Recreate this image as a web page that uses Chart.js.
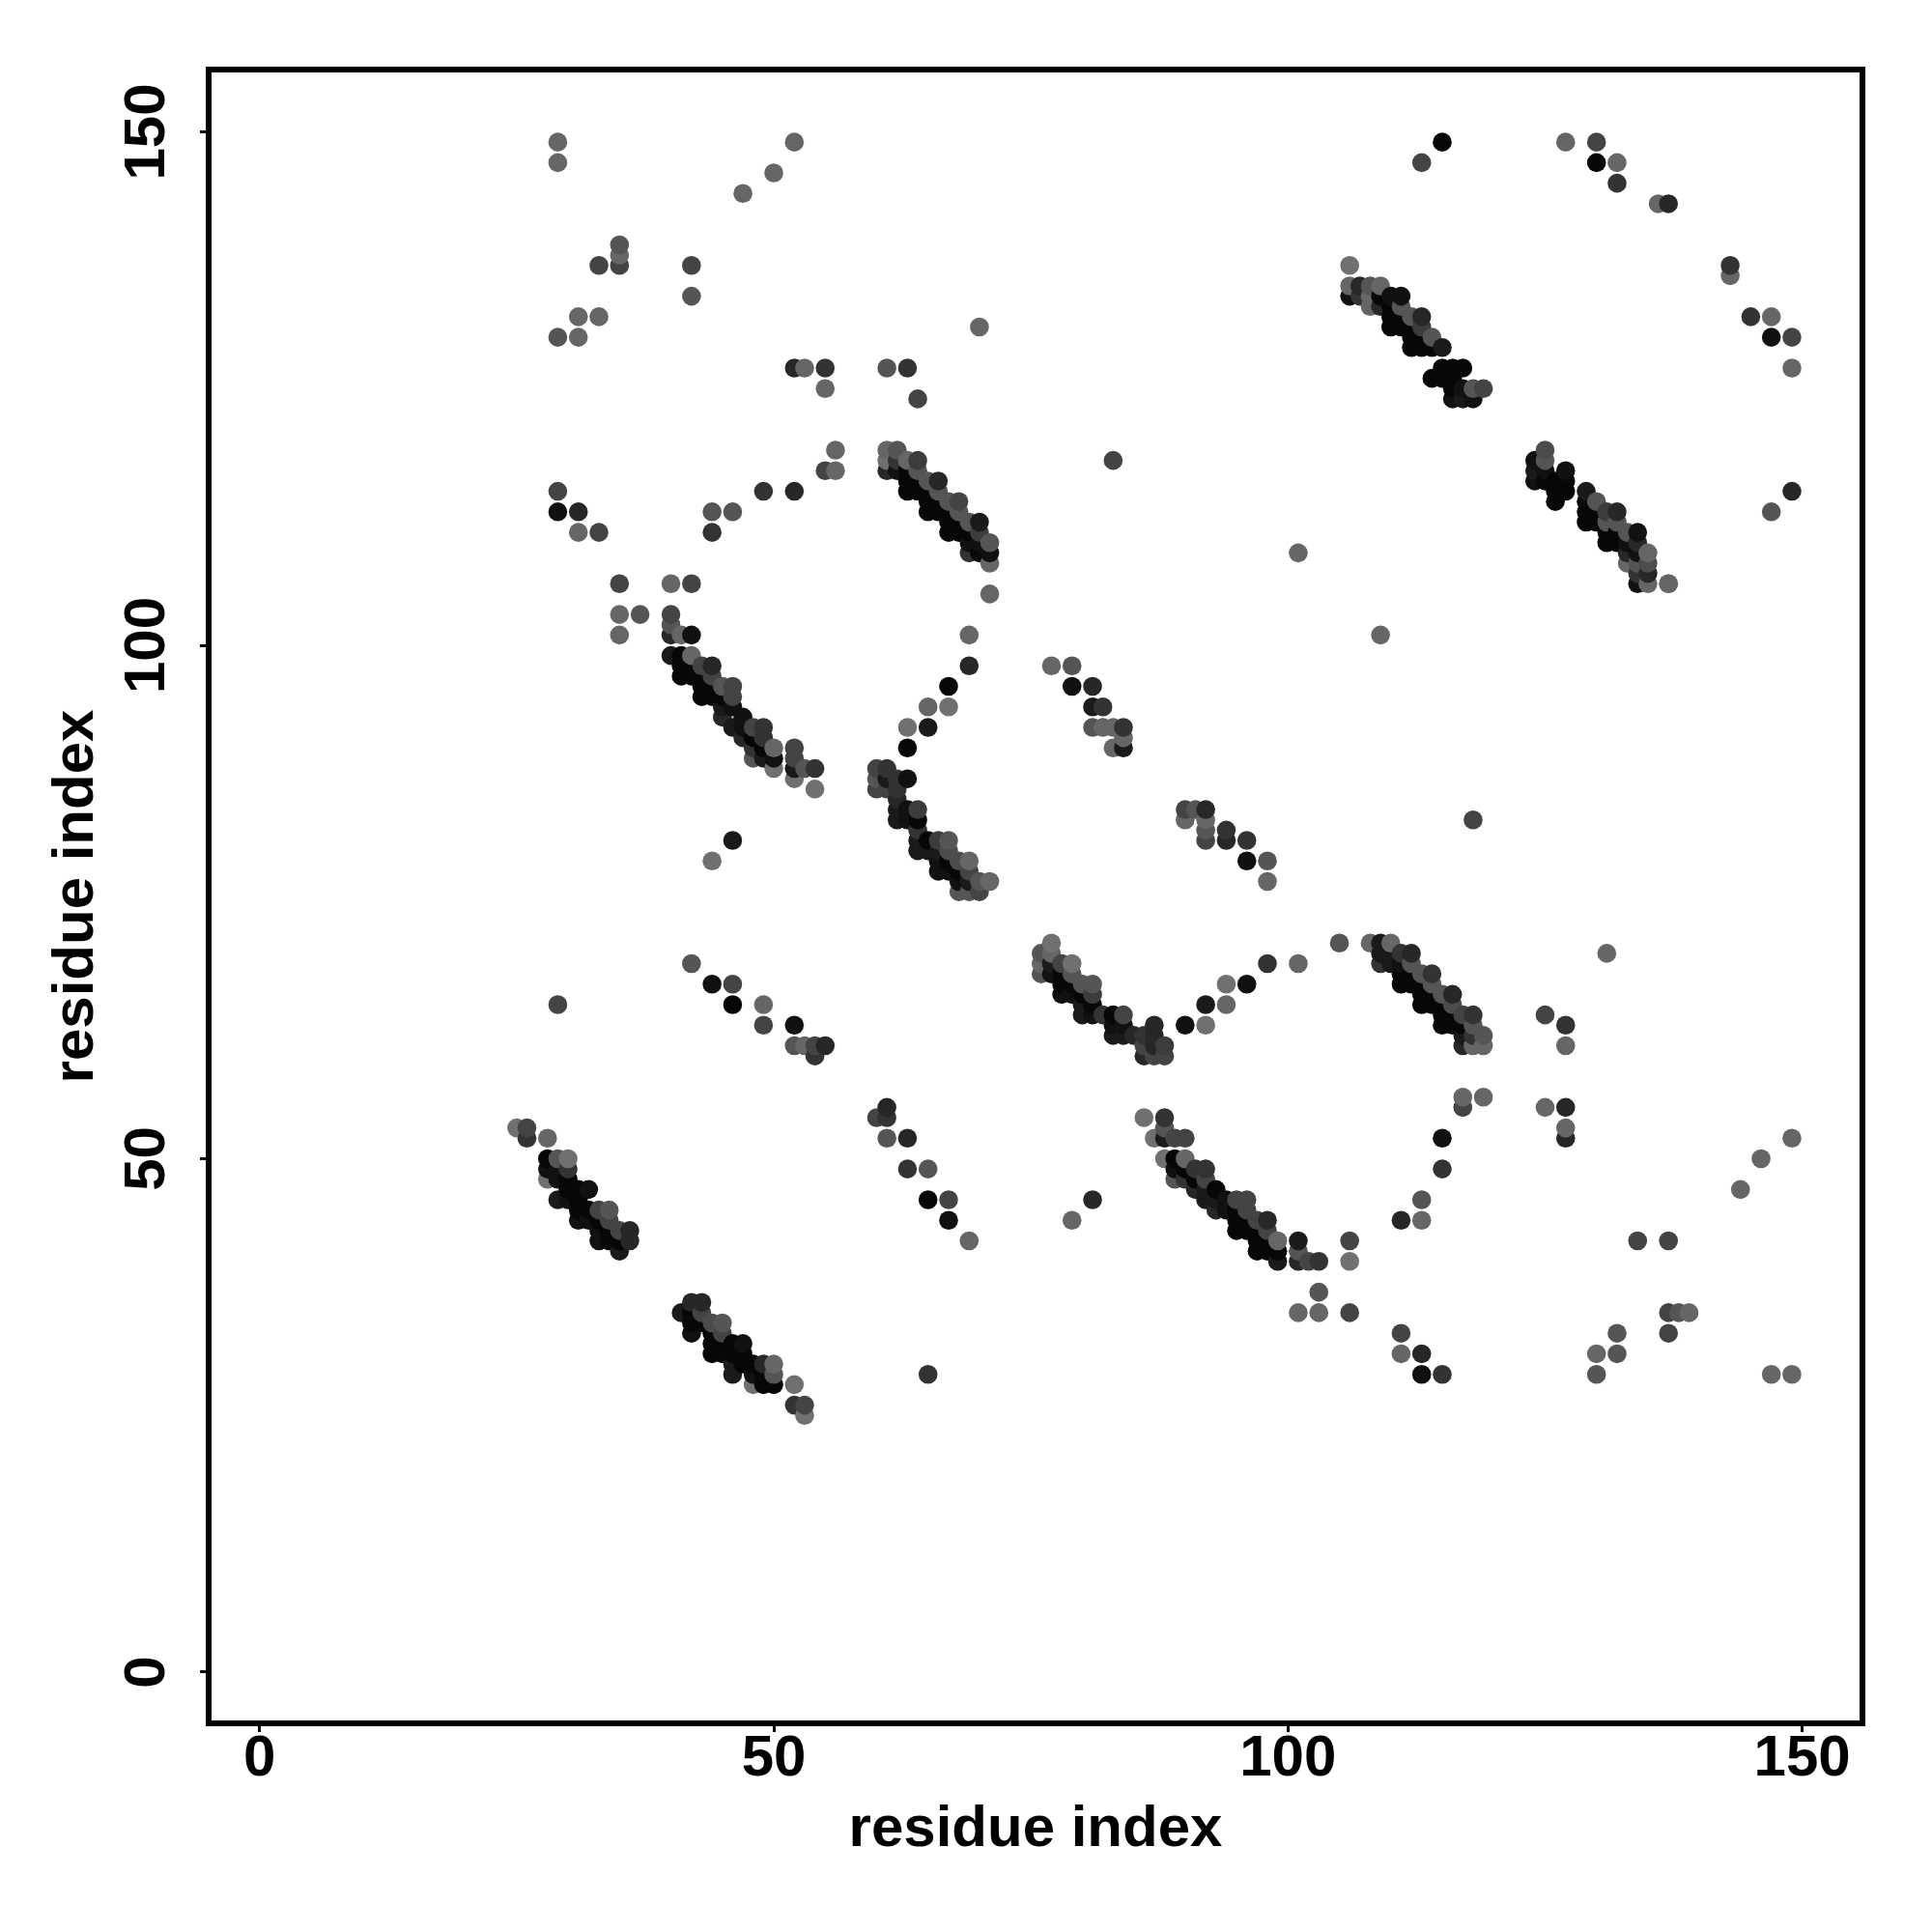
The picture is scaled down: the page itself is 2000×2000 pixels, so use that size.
<!DOCTYPE html>
<html>
<head>
<meta charset="utf-8">
<style>
  html, body { margin: 0; padding: 0; background: #fff; }
  canvas { display: block; }
</style>
<script src="https://cdn.jsdelivr.net/npm/chart.js@4"></script>
</head>
<body>
<canvas id="contacts" width="2000" height="2000"></canvas>
<script>
const tickValues = [0, 50, 100, 150];
const axisTitle = 'residue index';

// level 0 = strongest contact (darkest), 10 = weakest
const shadeScale = ['#070707', '#111111', '#1a1a1a', '#272727', '#333333', '#3c3c3c', '#444444', '#4c4c4c', '#555555', '#666666', '#707070'];

const strandAX = [25,26,26, 28,28,28,28, 29,29,29,29, 30,30,30,30,30, 31,31,31,31, 32,32,32, 33,33,33,33, 34,34,34,34, 35,35,35, 36,36];
const strandAY = [53,53,52, 52,50,49,48, 50,49,48,46, 50,49,48,47,46, 47,46,45,44, 47,45,44, 45,44,43,42, 45,44,43,42, 43,42,41, 43,42];
const strandAL = [10,6,4, 9,0,1,10, 8,1,1,2, 10,4,0,0,1, 0,0,0,1, 1,0,1, 6,0,1,1, 8,6,0,0, 6,0,2, 3,3];

const strandBX = [41, 42,42,42,42, 43,43,43, 44,44,44,44, 45,45,45,45, 46,46,46,46, 47,47,47, 48,48,48, 49,49,49, 50,50,50, 52,52, 53,53];
const strandBY = [35, 36,35,34,33, 36,35,34, 34,33,32,31, 34,33,32,31, 32,31,30,29, 32,31,30, 30,29,28, 30,29,28, 30,29,28, 28,26, 26,25];
const strandBL = [2, 3,0,0,1, 3,6,0, 7,0,0,0, 8,6,0,0, 0,0,2,2, 1,0,0, 0,1,10, 3,0,0, 9,8,0, 10,4, 6,10];

const strandCX = [40,40,40,40, 41,41,41,41, 42,42,42,42, 43,43,43,43, 44,44,44,44, 45,45,45,45, 46,46,46,46, 47,47,47, 48,48,48,48, 49,49,49,49, 50,50,50, 52,52,52,52, 53, 54,54];
const strandCY = [103,102,101,99, 101,99,98,97, 101,99,98,97, 98,97,96,95, 98,97,96,95, 96,95,94,93, 96,95,94,92, 93,92,91, 92,91,90,89, 92,91,90,89, 90,89,88, 90,89,88,87, 88, 88,86];
const strandCL = [6,8,3,2, 9,0,0,0, 1,9,0,0, 6,0,0,0, 3,6,0,0, 8,0,2,3, 6,6,1,2, 1,1,3, 6,0,4,8, 4,4,0,2, 9,1,10, 6,6,2,10, 8, 4,10];

const strandDX = [60,60,60, 61,61,61, 62,62,62,62,62, 63,63,63, 64,64,64,64,64, 65,65, 66,66,66,66, 67,67,67,67, 68,68,68,68, 69,69,69,69, 70,70, 71];
const strandDY = [88,87,86, 88,87,86, 87,86,85,84,83, 87,84,83, 84,83,82,81,80, 81,80, 81,80,79,78, 81,80,79,78, 79,78,77,76, 79,78,77,76, 77,76, 77];
const strandDL = [6,8,6, 4,2,6, 4,4,3,2,2, 1,1,1, 5,0,4,2,2, 0,2, 5,2,1,1, 8,7,0,1, 7,0,1,8, 9,6,2,8, 8,6, 9];

const strandEX = [61,61,61, 62,62,62, 63,63,63,63, 64,64,64,64, 65,65,65,65, 66,66,66,66, 67,67,67,67, 68,68,68,68, 69,69,69,69, 70,70,70,70, 71,71,71];
const strandEY = [119,118,117, 119,118,117, 118,117,116,115, 118,117,116,115, 116,115,114,113, 116,115,114,113, 114,113,112,111, 114,113,112,111, 112,111,110,109, 112,111,110,109, 110,109,108];
const strandEL = [9,10,3, 8,4,1, 9,0,0,0, 5,8,0,0, 8,0,0,0, 3,8,0,0, 8,0,0,0, 6,8,0,0, 8,0,1,4, 2,5,1,0, 8,1,9];

const strandFX = [76,76,76, 77,77,77,77, 78,78,78,78, 79,79,79,79, 80,80,80,80, 81,81,81,81, 82, 83,83,83, 84,84,84, 85, 86,86,86, 87,87,87,87, 88,88];
const strandFY = [70,69,68, 71,70,69,68, 69,68,67,66, 69,68,67,66, 67,66,65,64, 67,66,65,64, 64, 64,63,62, 64,63,62, 62, 62,61,60, 63,62,61,60, 61,60];
const strandFL = [8,9,8, 10,9,2,1, 6,0,0,1, 10,8,0,1, 8,0,2,2, 8,5,0,1, 4, 0,1,2, 6,1,2, 3, 4,6,3, 3,3,3,6, 5,6];

const strandGX = [86, 87, 88,88,88,88, 89,89,89,89, 90,90,90,90, 91,91,91, 92,92,92,92, 93,93,93, 94,94, 95,95,95,95, 96,96,96,96, 97,97,97,97, 98,98,98,98, 99,99,99, 101,101,101, 102, 103, 106,106];
const strandGY = [54, 52, 54,53,52,50, 52,50,49,48, 52,50,49,48, 49,48,47, 49,48,47,46, 47,46,45, 46,45, 46,45,44,43, 46,45,44,43, 44,43,42,41, 44,43,42,41, 42,41,40, 42,41,40, 40, 40, 42,40];
const strandGL = [10, 10, 4,8,2,10, 6,0,1,8, 6,9,0,4, 4,0,3, 4,6,2,2, 0,2,3, 1,1, 6,0,0,0, 6,6,0,0, 6,0,0,0, 3,6,0,0, 9,0,2, 2,8,3, 6, 4, 6,10];

const strandHX = [106,106,106, 107,107, 108,108,108, 109,109,109, 110,110,110,110, 111,111,111,111, 112,112,112,112, 113,113,113,113, 114,114, 115];
const strandHY = [137,135,134, 135,134, 135,134,133, 135,134,133, 134,133,132,131, 134,133,132,131, 132,131,130,129, 132,131,130,129, 130,129, 129];
const strandHL = [10,9,1, 3,4, 8,9,9, 9,0,3, 1,0,0,0, 1,8,0,0, 8,0,0,0, 3,5,0,0, 8,0, 2];

const strandIX = [114, 115,115, 116,116,116,116, 117,117,117, 118,118, 119];
const strandIY = [126, 127,126, 127,126,125,124, 127,125,124, 125,124, 125];
const strandIL = [0, 0,0, 0,0,0,1, 0,1,2, 8,1, 6];

const strandJX = [124,124,124, 125,125,125,125, 126,126,126, 127,127,127, 129,129,129,129, 130,130,130, 131,131,131,131, 132,132,132,132, 133,133,133,133, 134,134,134,134,134,134, 135,135,135,135, 137];
const strandJY = [118,117,116, 119,118,117,116, 116,115,114, 117,116,115, 115,114,113,112, 114,113,112, 113,112,111,110, 113,112,111,110, 111,110,109,108, 111,110,109,108,107,106, 109,108,107,106, 106];
const strandJL = [1,2,1, 7,8,1,0, 0,0,0, 1,0,0, 2,0,0,0, 8,0,0, 5,8,0,0, 3,8,0,0, 8,1,3,9, 1,3,1,8,4,1, 9,7,3,9, 9];

const strandKX = [108, 109,109,109, 110,110,110, 111,111,111,111, 112,112,112,112, 113,113,113,113, 114,114,114,114, 115,115,115,115, 116,116,116,116, 117,117,117,117, 118,118,118,118, 119,119];
const strandKY = [71, 71,70,69, 71,70,69, 70,69,68,67, 70,69,68,67, 68,67,66,65, 68,67,66,65, 66,65,64,63, 66,65,64,63, 64,63,62,61, 64,63,62,61, 62,61];
const strandKL = [9, 2,2,4, 9,2,2, 4,1,0,0, 3,8,0,0, 8,0,0,0, 4,8,0,0, 8,0,0,0, 3,7,0,0, 6,0,2,3, 4,8,4,9, 8,9];

const sparseTopX = [29,52,115,127,130, 29,113,130,132, 132,50,47, 136,137, 35,35, 33,35,42,143, 143, 42, 31,33,145,147, 29,31,147,149, 70, 52,53,55,61,63,149, 55, 64];
const sparseTopY = [149,149,149,149,149, 147,147,147,147, 145,146,144, 143,143, 139,138, 137,137,137,137, 136, 134, 132,132,132,132, 130,130,130,130, 131, 127,127,127,127,127,127, 125, 124];
const sparseTopL = [9,9,0,9,6, 9,6,0,9, 4,9,9, 9,3, 8,9, 6,6,6,4, 9, 8, 9,9,4,9, 8,9,1,6, 9, 3,9,4,8,4,9, 9, 6];

const sparseMidX = [83, 56, 55,56, 29,49,52,149, 29,31,44,46,147, 31,33,44, 101, 35,40,42,137, 71, 35,37, 35,109,69, 69, 67, 65,67, 63,65, 63];
const sparseMidY = [118, 119, 117,117, 115,115,115,115, 113,113,113,113,113, 111,111,111, 109, 106,106,106,106, 105, 103,103, 101,101,101, 98, 96, 94,94, 92,92, 90];
const sparseMidL = [6, 9, 6,9, 6,4,3,3, 1,3,8,8,8, 9,6,4, 9, 6,9,6,9, 9, 9,8, 9,9,9, 3, 0, 9,10, 10,2, 0];

const patchAX = [77,79,79,81,81,82,81,82,83,84,83,84,84];
const patchAY = [98,98,96,96,94,94,92,92,92,92,90,91,90];
const patchAL = [9,8,1,3,2,4,8,9,9,4,9,9,2];

const patchBX = [90,91,92,90,92,92,92,94,94,96,96,98,98];
const patchBY = [84,84,84,83,83,82,81,82,81,81,79,79,77];
const patchBL = [6,8,3,9,9,8,6,4,3,4,1,8,9];

const patchCX = [42,44,46,46,49,49,52,52,53,54,55,54,29,118,46,44];
const patchCY = [69,67,67,65,65,63,63,61,61,61,61,60,65,83,81,79];
const patchCL = [8,1,6,0,9,6,1,8,9,6,3,4,6,6,2,10];

const patchDX = [60,61,61,61,63,63,65,65,67,67,69,79,81];
const patchDY = [54,55,54,52,52,49,49,46,46,44,42,44,46];
const patchDL = [6,3,4,8,3,4,8,0,6,1,9,9,3];

const bridgeX = [90,92,92,94,94,96,98,101,105,131,125,127,127];
const bridgeY = [63,63,65,65,67,67,69,69,71,70,64,63,61];
const bridgeL = [1,10,2,9,10,1,4,9,8,9,6,4,9];

const sparseLowX = [117,117,119,125,127,127,127,115,115,113,111,113,149,146,144,134,137];
const sparseLowY = [56,55,56,55,55,53,52,52,49,46,44,44,52,50,47,42,42];
const sparseLowL = [9,6,9,9,3,9,3,1,4,8,3,9,9,9,9,6,6];

const sparseFootX = [103,101,103,106,111,111,113,113,115,130,132,132,130,137,138,139,137,147,149,65];
const sparseFootY = [37,35,35,35,33,31,31,29,29,31,33,31,29,35,35,35,33,29,29,29];
const sparseFootL = [8,9,9,6,6,9,3,1,4,9,8,8,8,6,8,9,6,9,9,4];

const allX = [].concat(strandAX, strandBX, strandCX, strandDX, strandEX, strandFX, strandGX, strandHX, strandIX, strandJX, strandKX,
  sparseTopX, sparseMidX, patchAX, patchBX, patchCX, patchDX, bridgeX, sparseLowX, sparseFootX);
const allY = [].concat(strandAY, strandBY, strandCY, strandDY, strandEY, strandFY, strandGY, strandHY, strandIY, strandJY, strandKY,
  sparseTopY, sparseMidY, patchAY, patchBY, patchCY, patchDY, bridgeY, sparseLowY, sparseFootY);
const allL = [].concat(strandAL, strandBL, strandCL, strandDL, strandEL, strandFL, strandGL, strandHL, strandIL, strandJL, strandKL,
  sparseTopL, sparseMidL, patchAL, patchBL, patchCL, patchDL, bridgeL, sparseLowL, sparseFootL);

// points are painted column by column, bottom to top
const points = allX.map((x, i) => ({ x: x, y: allY[i], level: allL[i] }));
points.sort((a, b) => a.x - b.x || a.y - b.y);

const frame = {
  id: 'frame',
  afterDraw(chart) {
    const a = chart.chartArea;
    const ctx = chart.ctx;
    ctx.save();
    ctx.strokeStyle = '#000';
    ctx.lineWidth = 6;
    ctx.lineJoin = 'miter';
    ctx.strokeRect(a.left, a.top, a.right - a.left, a.bottom - a.top);
    ctx.restore();
  }
};

const tickFont = { family: '"Liberation Sans"', weight: 'bold', size: 60 };

new Chart(document.getElementById('contacts'), {
  type: 'scatter',
  data: {
    datasets: [{
      data: points,
      backgroundColor: points.map(p => shadeScale[p.level]),
      borderWidth: 0,
      pointRadius: 9.8,
      pointHoverRadius: 9.8
    }]
  },
  plugins: [frame],
  options: {
    responsive: false,
    animation: false,
    devicePixelRatio: 1,
    layout: { padding: { left: 0, top: 72, right: 72, bottom: 0 } },
    plugins: { legend: { display: false }, tooltip: { enabled: false } },
    scales: {
      x: {
        type: 'linear',
        min: -4.95,
        max: 155.86,
        afterBuildTicks(scale) { scale.ticks = tickValues.map(v => ({ value: v })); },
        afterFit(scale) { scale.height = 216; },
        border: { display: false },
        grid: { drawOnChartArea: false, drawTicks: true, tickLength: 9, tickWidth: 3, tickColor: '#000' },
        ticks: { color: '#000', font: tickFont, padding: -8, maxRotation: 0, autoSkip: false, callback: v => String(v) },
        title: { display: true, text: axisTitle, color: '#000', font: tickFont, padding: { top: 0, bottom: 70 } }
      },
      y: {
        type: 'linear',
        min: -4.99,
        max: 156.07,
        afterBuildTicks(scale) { scale.ticks = tickValues.map(v => ({ value: v })); },
        afterFit(scale) { scale.width = 216; },
        border: { display: false },
        grid: { drawOnChartArea: false, drawTicks: true, tickLength: 9, tickWidth: 3, tickColor: '#000' },
        ticks: { color: '#000', font: tickFont, padding: 3, crossAlign: 'center', minRotation: 90, maxRotation: 90, autoSkip: false, callback: v => String(v) },
        title: { display: true, text: axisTitle, color: '#000', font: tickFont, padding: { top: 43, bottom: 0 } }
      }
    }
  }
});
</script>
</body>
</html>
